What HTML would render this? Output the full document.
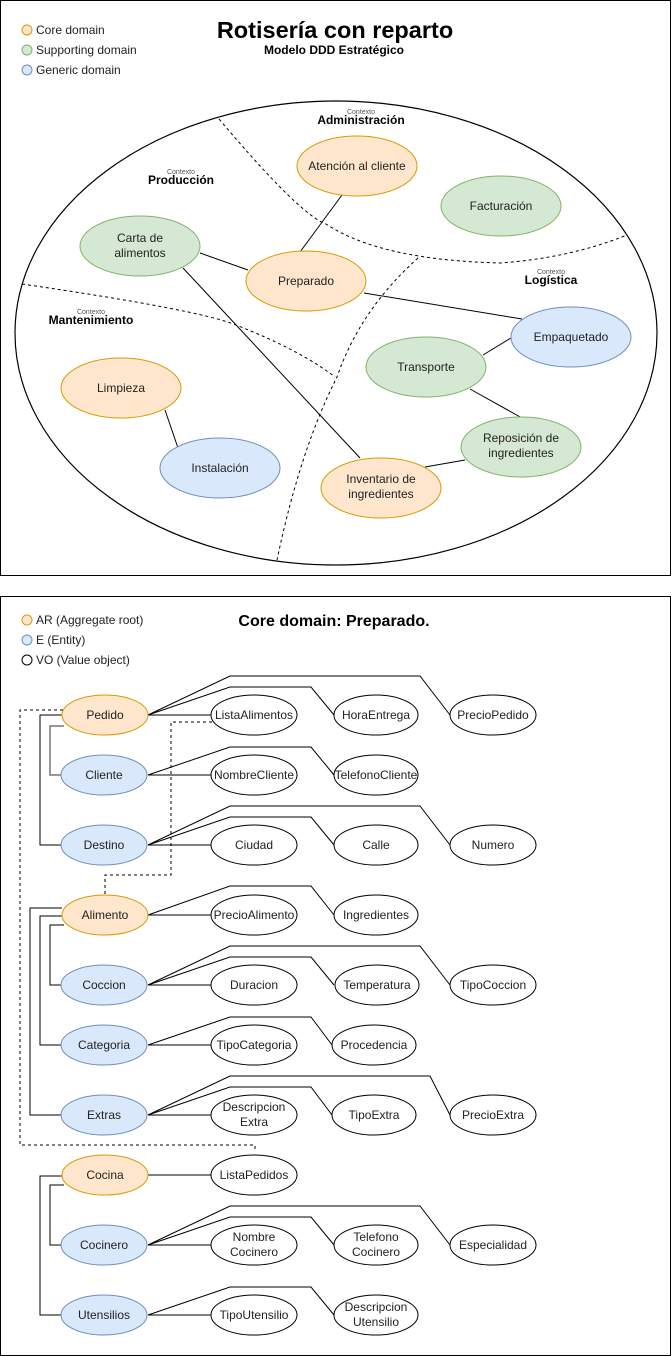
<!DOCTYPE html>
<html><head><meta charset="utf-8"><style>
html,body{margin:0;padding:0;background:#fff;}
svg{display:block;font-family:"Liberation Sans",Arial,sans-serif;}
</style></head><body>
<svg width="672" height="1356" viewBox="0 0 672 1356" xmlns="http://www.w3.org/2000/svg">
<rect x="0.5" y="0.5" width="670" height="575" fill="#fff" stroke="#000"/>
<rect x="0.5" y="596.5" width="670" height="759" fill="#fff" stroke="#000"/>

<!-- legend top -->
<g font-size="12" fill="#222">
<circle cx="27" cy="30" r="5" fill="#ffe6cc" stroke="#d79b00"/><text x="36" y="34">Core domain</text>
<circle cx="27" cy="50" r="5" fill="#d5e8d4" stroke="#82b366"/><text x="36" y="54">Supporting domain</text>
<circle cx="27" cy="70" r="5" fill="#dae8fc" stroke="#6c8ebf"/><text x="36" y="74">Generic domain</text>
</g>
<text x="335" y="38" font-size="23.5" font-weight="bold" text-anchor="middle">Rotisería con reparto</text>
<text x="334" y="54" font-size="12" font-weight="bold" text-anchor="middle">Modelo DDD Estratégico</text>

<ellipse cx="336" cy="333" rx="321" ry="232" fill="none" stroke="#000" stroke-width="1.2"/>
<g fill="none" stroke="#000" stroke-dasharray="3,3">
<path d="M219 119 Q 300 215 326 224 Q 380 260 500 263 Q 570 258 627 235"/>
<path d="M22 284 Q 200 310 236 325 Q 300 350 335 377"/>
<path d="M418 258 Q 360 310 337 377 Q 300 450 277 560"/>
</g>
<g stroke="#000" stroke-width="1">
<line x1="342" y1="195" x2="300" y2="252"/>
<line x1="200" y1="253" x2="248" y2="270"/>
<line x1="364" y1="293" x2="522" y2="319"/>
<line x1="183" y1="268" x2="360" y2="458"/>
<line x1="511" y1="338" x2="483" y2="355"/>
<line x1="470" y1="389" x2="522" y2="418"/>
<line x1="465" y1="460" x2="425" y2="467"/>
<line x1="165" y1="410" x2="178" y2="448"/>
</g>
<g font-size="12" text-anchor="middle" fill="#222">
<ellipse cx="357" cy="166" rx="60" ry="30" fill="#ffe6cc" stroke="#d79b00"/><text x="357" y="170">Atención al cliente</text>
<ellipse cx="501" cy="206" rx="60" ry="30" fill="#d5e8d4" stroke="#82b366"/><text x="501" y="210">Facturación</text>
<ellipse cx="140" cy="246" rx="60" ry="30" fill="#d5e8d4" stroke="#82b366"/><text x="140" y="242">Carta de</text><text x="140" y="257">alimentos</text>
<ellipse cx="306" cy="281" rx="60" ry="30" fill="#ffe6cc" stroke="#d79b00"/><text x="306" y="285">Preparado</text>
<ellipse cx="571" cy="337" rx="60" ry="30" fill="#dae8fc" stroke="#6c8ebf"/><text x="571" y="341">Empaquetado</text>
<ellipse cx="426" cy="367" rx="60" ry="30" fill="#d5e8d4" stroke="#82b366"/><text x="426" y="371">Transporte</text>
<ellipse cx="121" cy="388" rx="60" ry="30" fill="#ffe6cc" stroke="#d79b00"/><text x="121" y="392">Limpieza</text>
<ellipse cx="521" cy="447" rx="60" ry="30" fill="#d5e8d4" stroke="#82b366"/><text x="521" y="442">Reposición de</text><text x="521" y="457">ingredientes</text>
<ellipse cx="220" cy="468" rx="60" ry="30" fill="#dae8fc" stroke="#6c8ebf"/><text x="220" y="472">Instalación</text>
<ellipse cx="381" cy="488" rx="60" ry="30" fill="#ffe6cc" stroke="#d79b00"/><text x="381" y="483">Inventario de</text><text x="381" y="498">ingredientes</text>
</g>
<g text-anchor="middle">
<text x="361" y="114" font-size="7" fill="#555">Contexto</text><text x="361" y="124" font-size="12" font-weight="bold">Administración</text>
<text x="181" y="174" font-size="7" fill="#555">Contexto</text><text x="181" y="184" font-size="12" font-weight="bold">Producción</text>
<text x="551" y="274" font-size="7" fill="#555">Contexto</text><text x="551" y="284" font-size="12" font-weight="bold">Logística</text>
<text x="91" y="314" font-size="7" fill="#555">Contexto</text><text x="91" y="324" font-size="12" font-weight="bold">Mantenimiento</text>
</g>

<!-- bottom -->
<g font-size="12" fill="#222">
<circle cx="27" cy="620" r="5" fill="#ffe6cc" stroke="#d79b00"/><text x="36" y="624">AR (Aggregate root)</text>
<circle cx="27" cy="640" r="5" fill="#dae8fc" stroke="#6c8ebf"/><text x="36" y="644">E (Entity)</text>
<circle cx="27" cy="660" r="5" fill="#fff" stroke="#000"/><text x="36" y="664">VO (Value object)</text>
</g>
<text x="334" y="626" font-size="16" font-weight="bold" text-anchor="middle">Core domain: Preparado.</text>

<g fill="none" stroke="#000" stroke-dasharray="3,3">
<path d="M63 710 L20 710 L20 1145 L255 1145 L255 1152"/>
<path d="M212 722 L171 722 L171 875 L105 875 L105 896"/>
</g>
<g fill="none" stroke="#000">
<path d="M62 715 L40 715 L40 845 L61 845"/>
<path d="M64 726 L50 726 L50 775 L61 775" stroke="#777" stroke-width="1.5"/>
<path d="M62 908 L30 908 L30 1115 L61 1115"/>
<path d="M62 916 L40 916 L40 1045 L61 1045"/>
<path d="M64 925 L50 925 L50 985 L61 985"/>
<path d="M62 1176 L40 1176 L40 1315 L61 1315"/>
<path d="M64 1185 L50 1185 L50 1245 L61 1245"/>
<path d="M148 715H212M148 775H212M148 845H212M148 915H212M148 985H212M148 1045H212M148 1115H212M148 1175H212M148 1245H212M148 1315H212"/>
<path d="M148 715L230 687L311 687L334 715"/>
<path d="M148 775L230 747L311 747L334 775"/>
<path d="M148 845L230 817L311 817L334 845"/>
<path d="M148 915L230 886L311 886L334 915"/>
<path d="M148 985L230 957L311 957L334 985"/>
<path d="M148 1045L230 1017L311 1017L332 1045"/>
<path d="M148 1115L230 1087L311 1087L332 1115"/>
<path d="M148 1245L230 1217L311 1217L334 1245"/>
<path d="M148 1315L230 1287L311 1287L334 1315"/>
<path d="M148 715L230 676L420 676L450 715"/>
<path d="M148 845L230 806L420 806L450 845"/>
<path d="M148 985L230 946L420 946L450 985"/>
<path d="M148 1115L230 1076L430 1076L450 1115"/>
<path d="M148 1245L230 1206L420 1206L450 1245"/>
</g>

<g font-size="12" text-anchor="middle" fill="#222">
<ellipse cx="105" cy="715" rx="43" ry="20" fill="#ffe6cc" stroke="#d79b00"/><text x="105" y="719">Pedido</text>
<ellipse cx="104" cy="775" rx="43" ry="20" fill="#dae8fc" stroke="#6c8ebf"/><text x="104" y="779">Cliente</text>
<ellipse cx="104" cy="845" rx="43" ry="20" fill="#dae8fc" stroke="#6c8ebf"/><text x="104" y="849">Destino</text>
<ellipse cx="105" cy="915" rx="43" ry="20" fill="#ffe6cc" stroke="#d79b00"/><text x="105" y="919">Alimento</text>
<ellipse cx="104" cy="985" rx="43" ry="20" fill="#dae8fc" stroke="#6c8ebf"/><text x="104" y="989">Coccion</text>
<ellipse cx="104" cy="1045" rx="43" ry="20" fill="#dae8fc" stroke="#6c8ebf"/><text x="104" y="1049">Categoria</text>
<ellipse cx="104" cy="1115" rx="43" ry="20" fill="#dae8fc" stroke="#6c8ebf"/><text x="104" y="1119">Extras</text>
<ellipse cx="105" cy="1175" rx="43" ry="20" fill="#ffe6cc" stroke="#d79b00"/><text x="105" y="1179">Cocina</text>
<ellipse cx="104" cy="1245" rx="43" ry="20" fill="#dae8fc" stroke="#6c8ebf"/><text x="104" y="1249">Cocinero</text>
<ellipse cx="104" cy="1315" rx="43" ry="20" fill="#dae8fc" stroke="#6c8ebf"/><text x="104" y="1319">Utensilios</text>
</g>
<g font-size="12" text-anchor="middle" fill="#222">
<g fill="#fff" stroke="#000">
<ellipse cx="254" cy="715" rx="43" ry="20"/><ellipse cx="376" cy="715" rx="42" ry="20"/><ellipse cx="493" cy="715" rx="43" ry="20"/>
<ellipse cx="254" cy="775" rx="43" ry="20"/><ellipse cx="376" cy="775" rx="42" ry="20"/>
<ellipse cx="254" cy="845" rx="43" ry="20"/><ellipse cx="376" cy="845" rx="42" ry="20"/><ellipse cx="493" cy="845" rx="43" ry="20"/>
<ellipse cx="254" cy="915" rx="43" ry="20"/><ellipse cx="376" cy="915" rx="42" ry="20"/>
<ellipse cx="254" cy="985" rx="43" ry="20"/><ellipse cx="377" cy="985" rx="42" ry="20"/><ellipse cx="493" cy="985" rx="43" ry="20"/>
<ellipse cx="254" cy="1045" rx="43" ry="20"/><ellipse cx="374" cy="1045" rx="42" ry="20"/>
<ellipse cx="254" cy="1115" rx="43" ry="20"/><ellipse cx="374" cy="1115" rx="42" ry="20"/><ellipse cx="493" cy="1115" rx="43" ry="20"/>
<ellipse cx="254" cy="1175" rx="43" ry="20"/>
<ellipse cx="254" cy="1245" rx="43" ry="20"/><ellipse cx="376" cy="1245" rx="42" ry="20"/><ellipse cx="493" cy="1245" rx="43" ry="20"/>
<ellipse cx="254" cy="1315" rx="43" ry="20"/><ellipse cx="376" cy="1315" rx="42" ry="20"/>
</g>
<text x="254" y="719">ListaAlimentos</text><text x="376" y="719">HoraEntrega</text><text x="493" y="719">PrecioPedido</text>
<text x="254" y="779">NombreCliente</text><text x="376" y="779">TelefonoCliente</text>
<text x="254" y="849">Ciudad</text><text x="376" y="849">Calle</text><text x="493" y="849">Numero</text>
<text x="254" y="919">PrecioAlimento</text><text x="376" y="919">Ingredientes</text>
<text x="254" y="989">Duracion</text><text x="377" y="989">Temperatura</text><text x="493" y="989">TipoCoccion</text>
<text x="254" y="1049">TipoCategoria</text><text x="374" y="1049">Procedencia</text>
<text x="254" y="1111">Descripcion</text><text x="254" y="1126">Extra</text><text x="374" y="1119">TipoExtra</text><text x="493" y="1119">PrecioExtra</text>
<text x="254" y="1179">ListaPedidos</text>
<text x="254" y="1241">Nombre</text><text x="254" y="1256">Cocinero</text><text x="376" y="1241">Telefono</text><text x="376" y="1256">Cocinero</text><text x="493" y="1249">Especialidad</text>
<text x="254" y="1319">TipoUtensilio</text><text x="376" y="1311">Descripcion</text><text x="376" y="1326">Utensilio</text>
</g>
</svg>
</body></html>
